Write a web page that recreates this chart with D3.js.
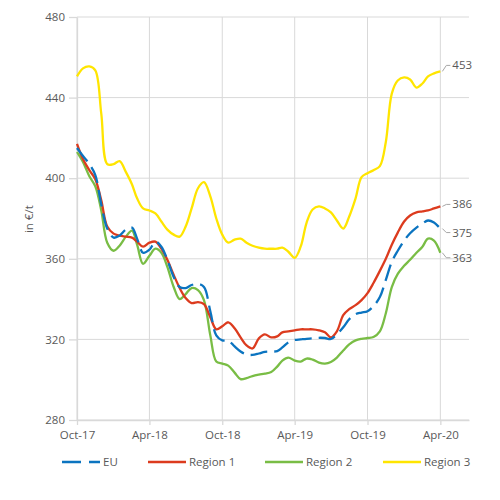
<!DOCTYPE html>
<html>
<head>
<meta charset="utf-8">
<script src="https://cdn.jsdelivr.net/npm/d3@7"></script>
<style>
  body { margin: 0; background: #fff; }
  text { font-family: "Open Sans", sans-serif; fill: #595959; }
</style>
</head>
<body>
<div id="chart"></div>
<script>
// semi-monthly observations
var dates = [
  "2017-10-01","2017-10-16","2017-11-01","2017-11-16","2017-12-01","2017-12-16",
  "2018-01-01","2018-01-16","2018-02-01","2018-02-16","2018-03-01","2018-03-16",
  "2018-04-01","2018-04-16","2018-05-01","2018-05-16","2018-06-01","2018-06-16",
  "2018-07-01","2018-07-16","2018-08-01","2018-08-16","2018-09-01","2018-09-16",
  "2018-10-01","2018-10-16","2018-11-01","2018-11-16","2018-12-01","2018-12-16",
  "2019-01-01","2019-01-16","2019-02-01","2019-02-16","2019-03-01","2019-03-16",
  "2019-04-01","2019-04-16","2019-05-01","2019-05-16","2019-06-01","2019-06-16",
  "2019-07-01","2019-07-16","2019-08-01","2019-08-16","2019-09-01","2019-09-16",
  "2019-10-01","2019-10-16","2019-11-01","2019-11-16","2019-12-01","2019-12-16",
  "2020-01-01","2020-01-16","2020-02-01","2020-02-16","2020-03-01","2020-03-16",
  "2020-04-01"
];

var eu = [
  415, 411, 407, 401.5, 387, 375, 370.5, 371.5, 374.5, 375.5,
  370, 363, 364.5, 368.5, 366, 359.5, 351, 346, 345.5, 347,
  347.5, 346, 334, 322, 319.5, 319.5, 316.5, 314, 312.5, 312.3,
  313, 313.8, 314, 314.2, 316, 318.5, 319.7, 320, 320.3, 320.5,
  320.8, 320.7, 320.2, 322.5, 326, 330, 332.5, 333.3, 334, 336.5,
  341, 349.5, 358.5, 364, 369, 372.7, 375.5, 377.5, 379, 378, 375
];
var region1 = [
  417, 409.5, 404, 399.5, 389, 376, 372.5, 371.5, 371, 370.5,
  368.5, 366, 368, 368.5, 365, 359.5, 352, 345.5, 340.5, 338,
  338.5, 337.5, 331, 325, 326.5, 328.5, 325.5, 321, 317, 315.5,
  320.5, 322.5, 321, 321.5, 323.5, 324, 324.5, 325, 325, 325,
  324.5, 323.5, 321, 324, 332, 335, 337, 339.5, 343, 348,
  354, 360, 367, 373, 378.5, 381.5, 383, 383.5, 384, 385, 386
];
var region2 = [
  413, 408, 401, 396, 384, 368, 364, 366.5, 371, 374,
  367, 357.5, 361.5, 365, 363, 356, 346, 340, 342.5, 345.5,
  344.5, 339.5, 322, 309, 308, 307, 303.5, 300.3, 300.8, 301.8,
  302.5, 303, 303.8, 306.5, 309.5, 311, 309.5, 309, 310.5, 310,
  308.5, 308, 308.8, 311, 314.5, 317.5, 319.5, 320.3, 320.7, 321.2,
  324, 333, 346, 352.5, 356.5, 359.5, 363, 366, 370, 369, 363
];
var region3 = [
  450.5, 454.5, 455.5, 453.5, 432, 407, 407, 408.5, 403, 397,
  390, 385, 384, 382.5, 378.5, 374.5, 372, 371, 376, 385,
  395, 398, 391, 380, 372, 368, 369.5, 370, 368, 366.5,
  365.5, 365, 365, 365, 365.5, 363.5, 360.5, 366, 378, 384.5,
  386, 385, 383, 379, 375, 381, 390, 400.5, 402.5, 404,
  406, 418, 442, 448.5, 450, 449, 445, 447, 450.5, 452, 453
];

var seriesNames = ["EU", "Region 1", "Region 2", "Region 3"];
var yTicks = [280, 320, 360, 400, 440, 480];
var xTicks = ["2017-10-01", "2018-04-01", "2018-10-01", "2019-04-01", "2019-10-01", "2020-04-01"];

var parse = d3.timeParse("%Y-%m-%d");

var series = [
  { name: seriesNames[0], values: eu,      color: "#0b74c0", dash: "17,7", labelDy: 4 },
  { name: seriesNames[1], values: region1, color: "#dc3b1e", dash: null,   labelDy: -2 },
  { name: seriesNames[2], values: region2, color: "#79bd45", dash: null,   labelDy: 5 },
  { name: seriesNames[3], values: region3, color: "#ffe500", dash: null,   labelDy: -6 }
];

var margin = { top: 17, left: 77, bottom: 80, right: 31 },
    width = 500 - margin.left - margin.right,
    height = 500 - margin.top - margin.bottom;

var svg = d3.select("#chart").append("svg")
    .attr("width", 500)
    .attr("height", 500)
  .append("g")
    .attr("transform", "translate(" + margin.left + "," + margin.top + ")");

var x = d3.scaleTime()
    .domain([parse("2017-10-01"), parse("2020-06-12")])
    .range([0, width]);

var y = d3.scaleLinear()
    .domain([280, 480])
    .range([height, 0]);

// gridlines
svg.append("g")
    .attr("class", "grid")
    .selectAll("line")
    .data(yTicks)
    .enter().append("line")
    .attr("x1", 0)
    .attr("x2", width)
    .attr("y1", function (d) { return y(d); })
    .attr("y2", function (d) { return y(d); })
    .attr("stroke", "#d9d9d9")
    .attr("stroke-width", 1);

svg.append("g")
    .attr("class", "grid")
    .selectAll("line")
    .data(xTicks)
    .enter().append("line")
    .attr("x1", function (d) { return x(parse(d)); })
    .attr("x2", function (d) { return x(parse(d)); })
    .attr("y1", 0)
    .attr("y2", height)
    .attr("stroke", "#d9d9d9")
    .attr("stroke-width", 1);

// axes
var xAxis = d3.axisBottom(x)
    .tickValues(xTicks.map(parse))
    .tickFormat(d3.timeFormat("%b-%y"))
    .tickSize(5)
    .tickSizeOuter(0)
    .tickPadding(6);

var yAxis = d3.axisLeft(y)
    .tickValues(yTicks)
    .tickSize(8)
    .tickSizeOuter(0)
    .tickPadding(4);

var gx = svg.append("g")
    .attr("class", "x_axis")
    .attr("transform", "translate(0," + height + ")")
    .call(xAxis);

var gy = svg.append("g")
    .attr("class", "y_axis")
    .call(yAxis);

[gx, gy].forEach(function (g) {
    g.select(".domain").attr("stroke", "#d9d9d9").attr("stroke-width", 1.3);
    g.selectAll(".tick line").attr("stroke", "#d9d9d9").attr("stroke-width", 1.3);
    g.selectAll(".tick text")
        .attr("fill", "#595959")
        .style("font-size", "11.5px")
        .style("font-family", "'Open Sans', sans-serif");
});

svg.append("text")
    .attr("transform", "rotate(-90)")
    .attr("x", -(y(400) + 41))
    .attr("y", -44)
    .attr("text-anchor", "middle")
    .style("font-size", "11.5px")
    .text("in €/t");

// lines
var line = d3.line()
    .x(function (d, i) { return x(parse(dates[i])); })
    .y(function (d) { return y(d); })
    .curve(d3.curveCatmullRom.alpha(0.5));

// draw yellow first so the others sit on top
var drawOrder = [3, 2, 1, 0];
drawOrder.forEach(function (k) {
    var s = series[k];
    svg.append("path")
        .datum(s.values)
        .attr("class", "line")
        .attr("fill", "none")
        .attr("stroke", s.color)
        .attr("stroke-width", 2.3)
        .attr("stroke-dasharray", s.dash)
        .attr("d", line);
});

// end labels with leader lines
series.forEach(function (s) {
    var last = s.values.length - 1;
    var xe = x(parse(dates[last])),
        ye = y(s.values[last]),
        yl = ye + s.labelDy;
    svg.append("polyline")
        .attr("points", [[xe + 2, ye], [xe + 6, yl], [xe + 10, yl]].join(" "))
        .attr("fill", "none")
        .attr("stroke", "#a6a6a6")
        .attr("stroke-width", 1);
    svg.append("text")
        .attr("x", xe + 12)
        .attr("y", yl)
        .attr("dy", "0.35em")
        .style("font-size", "11.5px")
        .text(d3.format(".0f")(s.values[last]));
});

// legend
var legendX = [62, 148, 265, 383];
var legend = d3.select("svg").append("g").attr("class", "legend");
series.forEach(function (s, i) {
    legend.append("line")
        .attr("x1", legendX[i])
        .attr("x2", legendX[i] + 38)
        .attr("y1", 462)
        .attr("y2", 462)
        .attr("stroke", s.color)
        .attr("stroke-width", 2.3)
        .attr("stroke-dasharray", s.dash ? "19,8" : null);
    legend.append("text")
        .attr("x", legendX[i] + 41)
        .attr("y", 462)
        .attr("dy", "0.35em")
        .style("font-size", "11.5px")
        .text(s.name);
});
</script>
</body>
</html>
